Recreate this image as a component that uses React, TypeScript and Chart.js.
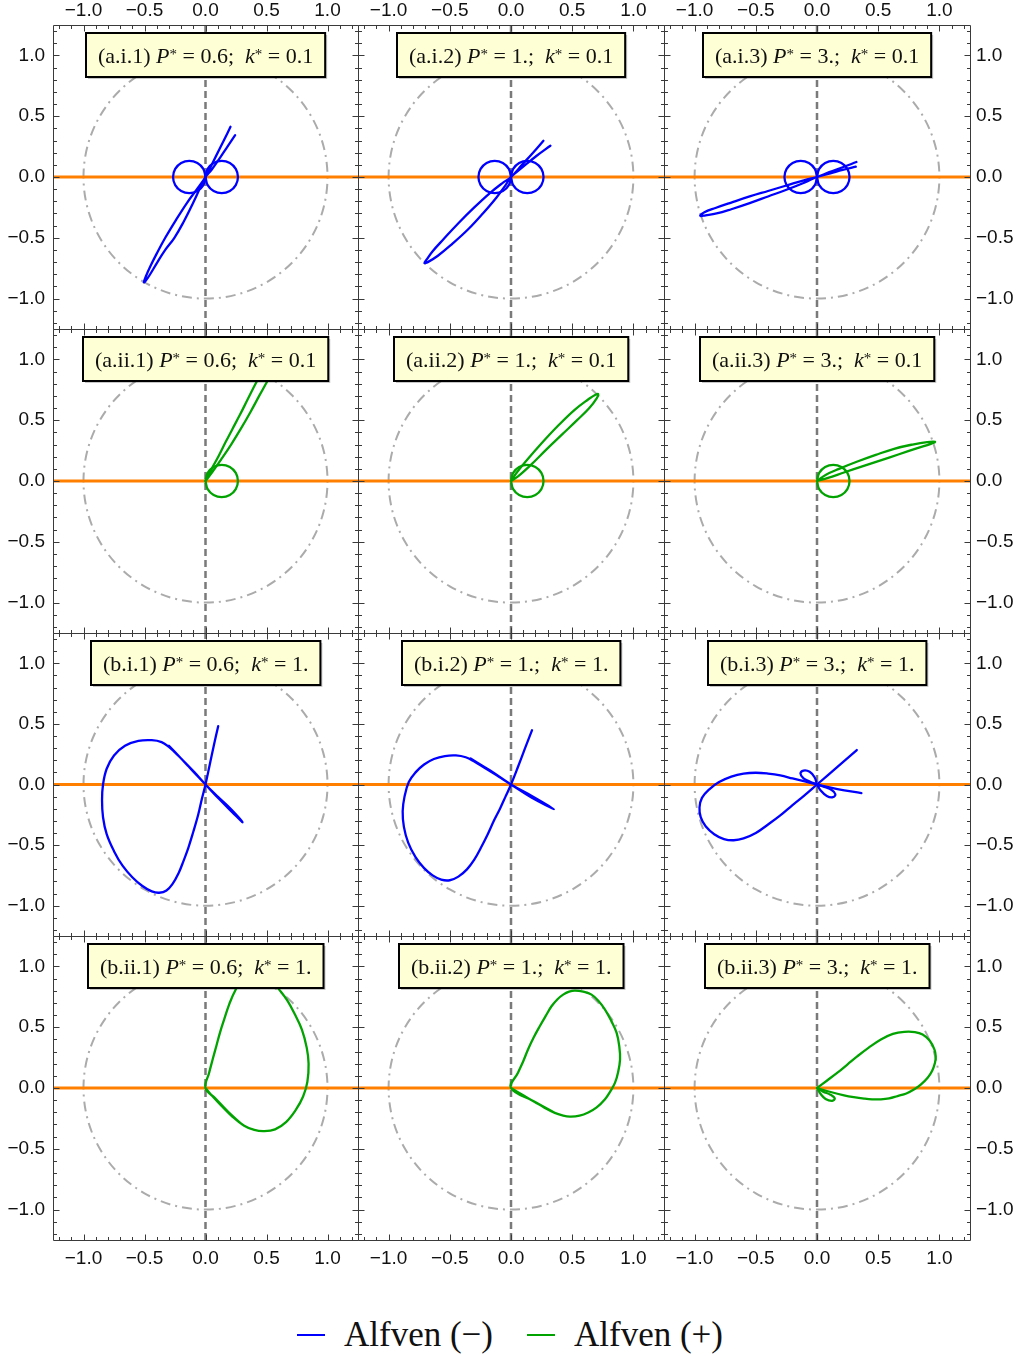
import React, { useEffect, useRef } from 'react';
import { Chart, registerables } from 'chart.js';

Chart.register(...registerables);

type Pt = [number, number];

// ---------- axes ----------
const AXIS_MIN = -1.25;
const AXIS_MAX = 1.25;
const majorTickValues = [-1, -0.5, 0, 0.5, 1];
const majorTickLabels = ['−1.0', '−0.5', '0.0', '0.5', '1.0'];
const minorTickValues = [-1.2, -1.1, -1, -0.9, -0.8, -0.7, -0.6, -0.5, -0.4, -0.3, -0.2, -0.1, 0, 0.1, 0.2, 0.3, 0.4, 0.5, 0.6, 0.7, 0.8, 0.9, 1, 1.1, 1.2];

// ---------- labels ----------
const rowTags = ['a.i', 'a.ii', 'b.i', 'b.ii'];
const pStarValues = ['0.6', '1.', '3.'];
const kStarValues = ['0.1', '0.1', '1.', '1.'];
const seriesNames = ['Alfven (−)', 'Alfven (+)'];

// ---------- guides ----------
const horizontalAxisLine: Pt[] = [[-1.25, 0], [1.25, 0]];
const verticalAxisLine: Pt[] = [[0, -1.25], [0, 1.25]];
const unitCircle: Pt[] = [
  [0, 1], [0.2588, 0.9659], [0.5, 0.866], [0.7071, 0.7071], [0.866, 0.5], [0.9659, 0.2588],
  [1, 0], [0.9659, -0.2588], [0.866, -0.5], [0.7071, -0.7071], [0.5, -0.866], [0.2588, -0.9659],
  [0, -1], [-0.2588, -0.9659], [-0.5, -0.866], [-0.7071, -0.7071], [-0.866, -0.5], [-0.9659, -0.2588],
  [-1, 0], [-0.9659, 0.2588], [-0.866, 0.5], [-0.7071, 0.7071], [-0.5, 0.866], [-0.2588, 0.9659], [0, 1],
];

// small loops touching the origin
const rightLoop: Pt[] = [
  [0, 0], [0.0178, 0.0665], [0.0665, 0.1152], [0.133, 0.133], [0.1995, 0.1152], [0.2482, 0.0665],
  [0.266, 0], [0.2482, -0.0665], [0.1995, -0.1152], [0.133, -0.133], [0.0665, -0.1152], [0.0178, -0.0665], [0, 0],
];
const leftLoop: Pt[] = [
  [0, 0], [-0.0178, 0.0665], [-0.0665, 0.1152], [-0.133, 0.133], [-0.1995, 0.1152], [-0.2482, 0.0665],
  [-0.266, 0], [-0.2482, -0.0665], [-0.1995, -0.1152], [-0.133, -0.133], [-0.0665, -0.1152], [-0.0178, -0.0665], [0, 0],
];

// ---------- Alfven (−), k* = 0.1 ----------
const aI1Minus: Pt[] = [
  [0.205, 0.413], [0.15, 0.3], [0.09, 0.18], [0.03, 0.06], [0, 0],
  [-0.07, -0.1], [-0.15, -0.21], [-0.24, -0.35], [-0.33, -0.5], [-0.4, -0.63], [-0.45, -0.73], [-0.49, -0.82], [-0.505, -0.866],
  [-0.495, -0.86], [-0.46, -0.81], [-0.4, -0.71], [-0.33, -0.6], [-0.255, -0.5], [-0.18, -0.37], [-0.1, -0.21], [-0.04, -0.08], [0, 0],
  [0.05, 0.06], [0.12, 0.16], [0.18, 0.25], [0.243, 0.344],
];
const aI2Minus: Pt[] = [
  [0.265, 0.298], [0.18, 0.2], [0.09, 0.1], [0, 0],
  [-0.07, -0.05], [-0.17, -0.13], [-0.3, -0.25], [-0.43, -0.38], [-0.55, -0.51], [-0.64, -0.61], [-0.69, -0.68], [-0.708, -0.708],
  [-0.68, -0.7], [-0.6, -0.65], [-0.48, -0.55], [-0.35, -0.43], [-0.23, -0.3], [-0.12, -0.17], [-0.04, -0.06], [0, 0],
  [0.1, 0.085], [0.21, 0.175], [0.322, 0.257],
];
const aI3Minus: Pt[] = [
  [0.322, 0.123], [0.21, 0.08], [0.1, 0.04], [0, 0],
  [-0.1, -0.025], [-0.25, -0.07], [-0.4, -0.115], [-0.55, -0.16], [-0.7, -0.21], [-0.83, -0.255], [-0.92, -0.29], [-0.954, -0.32],
  [-0.91, -0.315], [-0.82, -0.3], [-0.7, -0.265], [-0.55, -0.215], [-0.4, -0.16], [-0.25, -0.105], [-0.1, -0.045], [0, 0],
  [0.11, 0.03], [0.21, 0.058], [0.317, 0.085],
];

// ---------- Alfven (+), k* = 0.1 ----------
const aII1Plus: Pt[] = [
  [0, 0], [0.05, 0.1], [0.11, 0.21], [0.165, 0.32], [0.22, 0.426], [0.28, 0.54], [0.35, 0.68], [0.418, 0.814], [0.47, 0.9],
  [0.52, 0.95],
  [0.55, 0.9], [0.503, 0.814], [0.44, 0.7], [0.37, 0.57], [0.29, 0.43], [0.21, 0.3], [0.13, 0.18], [0.06, 0.08], [0, 0],
];
const aII2Plus: Pt[] = [
  [0, 0], [0.04, 0.06], [0.12, 0.16], [0.25, 0.31], [0.39, 0.46], [0.52, 0.585], [0.63, 0.67], [0.69, 0.71], [0.713, 0.713],
  [0.7, 0.68], [0.64, 0.6], [0.54, 0.5], [0.42, 0.385], [0.29, 0.26], [0.16, 0.13], [0.06, 0.04], [0, 0],
];
const aII3Plus: Pt[] = [
  [0, 0], [0.07, 0.05], [0.18, 0.1], [0.33, 0.16], [0.48, 0.215], [0.63, 0.265], [0.78, 0.3], [0.9, 0.32], [0.964, 0.322],
  [0.93, 0.305], [0.82, 0.27], [0.67, 0.22], [0.52, 0.17], [0.37, 0.12], [0.22, 0.07], [0.09, 0.025], [0, 0],
];

// ---------- Alfven (−), k* = 1 ----------
const bI1Minus: Pt[] = [
  [0.104, 0.481], [0.07, 0.33], [0.035, 0.165], [0, 0],
  [-0.03, -0.12], [-0.06, -0.25], [-0.1, -0.39], [-0.14, -0.52], [-0.18, -0.63], [-0.22, -0.73], [-0.27, -0.82],
  [-0.32, -0.875], [-0.38, -0.893], [-0.44, -0.882], [-0.52, -0.835], [-0.6, -0.765], [-0.68, -0.67], [-0.75, -0.55],
  [-0.81, -0.41], [-0.84, -0.27], [-0.848, -0.13], [-0.84, 0], [-0.81, 0.13], [-0.75, 0.24], [-0.66, 0.32],
  [-0.55, 0.36], [-0.44, 0.366], [-0.36, 0.35], [-0.3, 0.31], [-0.22, 0.235], [-0.14, 0.15], [-0.07, 0.075], [0, 0],
  [0.112, -0.12], [0.221, -0.23], [0.303, -0.311], [0.21, -0.205], [0.1, -0.1], [0, 0],
  [-0.09, 0.1], [-0.2, 0.215], [-0.3, 0.32],
];
const bI2Minus: Pt[] = [
  [0.172, 0.448], [0.115, 0.3], [0.055, 0.14], [0, 0],
  [-0.045, -0.1], [-0.09, -0.2], [-0.14, -0.3], [-0.19, -0.41], [-0.245, -0.52], [-0.3, -0.62], [-0.36, -0.7],
  [-0.43, -0.76], [-0.5, -0.79], [-0.57, -0.785], [-0.64, -0.75], [-0.71, -0.69], [-0.78, -0.6], [-0.84, -0.48],
  [-0.875, -0.35], [-0.885, -0.22], [-0.87, -0.1], [-0.835, 0.02], [-0.78, 0.1], [-0.71, 0.165], [-0.63, 0.21],
  [-0.54, 0.235], [-0.45, 0.24], [-0.37, 0.225], [-0.3, 0.19], [-0.22, 0.14], [-0.14, 0.09], [-0.07, 0.045], [0, 0],
  [0.167, -0.107], [0.35, -0.202], [0.17, -0.095], [0, 0], [-0.17, 0.115], [-0.33, 0.215],
];
const bI3Minus: Pt[] = [
  [0.325, 0.284], [0.16, 0.14], [0, 0],
  [-0.107, -0.093], [-0.2, -0.17], [-0.3, -0.255], [-0.4, -0.33], [-0.5, -0.4], [-0.6, -0.445], [-0.68, -0.46],
  [-0.76, -0.45], [-0.84, -0.41], [-0.91, -0.345], [-0.95, -0.27], [-0.96, -0.19], [-0.94, -0.11], [-0.88, -0.04],
  [-0.8, 0.02], [-0.7, 0.065], [-0.6, 0.09], [-0.5, 0.097], [-0.4, 0.09], [-0.3, 0.075], [-0.2, 0.05], [-0.1, 0.025], [0, 0],
  [0.167, -0.038], [0.363, -0.071],
];
const bI3MinusPetalA: Pt[] = [
  [0, 0], [-0.02, 0.06], [-0.06, 0.105], [-0.11, 0.115], [-0.135, 0.09], [-0.11, 0.05], [-0.06, 0.025], [0, 0],
];
const bI3MinusPetalB: Pt[] = [
  [0, 0], [0.06, -0.02], [0.12, -0.045], [0.15, -0.08], [0.13, -0.105], [0.08, -0.095], [0.03, -0.05], [0, 0],
];

// ---------- Alfven (+), k* = 1 ----------
const bII1Plus: Pt[] = [
  [0.3, -0.3], [0.19, -0.2], [0.08, -0.085], [0, 0],
  [0.03, 0.126], [0.06, 0.24], [0.09, 0.35], [0.12, 0.46], [0.155, 0.57], [0.195, 0.69], [0.243, 0.8], [0.31, 0.9],
  [0.42, 0.95], [0.52, 0.91], [0.604, 0.809], [0.67, 0.72], [0.73, 0.61], [0.79, 0.48], [0.83, 0.33], [0.845, 0.2],
  [0.835, 0.05], [0.8, -0.07], [0.74, -0.18], [0.66, -0.28], [0.57, -0.34], [0.48, -0.355], [0.4, -0.345],
  [0.317, -0.31], [0.22, -0.235], [0.12, -0.135], [0.05, -0.06], [0, 0],
];
const bII2Plus: Pt[] = [
  [0.36, -0.205], [0.19, -0.11], [0, 0],
  [0.057, 0.126], [0.1, 0.22], [0.139, 0.317], [0.185, 0.415], [0.235, 0.508], [0.285, 0.595], [0.331, 0.672],
  [0.38, 0.73], [0.426, 0.768], [0.475, 0.792], [0.522, 0.8], [0.59, 0.792], [0.658, 0.768], [0.715, 0.715],
  [0.768, 0.645], [0.82, 0.55], [0.863, 0.454], [0.885, 0.34], [0.891, 0.235], [0.875, 0.13], [0.85, 0.044],
  [0.81, -0.03], [0.768, -0.093], [0.7, -0.16], [0.631, -0.202], [0.56, -0.228], [0.481, -0.235], [0.42, -0.225],
  [0.358, -0.205], [0.27, -0.16], [0.194, -0.115], [0.1, -0.06], [0, 0],
];
const bII3Plus: Pt[] = [
  [0, 0], [0.08, 0.06], [0.167, 0.126], [0.25, 0.195], [0.331, 0.262], [0.42, 0.33], [0.522, 0.399], [0.62, 0.445],
  [0.713, 0.462], [0.8, 0.46], [0.863, 0.44], [0.92, 0.39], [0.959, 0.317], [0.97, 0.26], [0.964, 0.208], [0.94, 0.14],
  [0.904, 0.085], [0.85, 0.03], [0.795, -0.011], [0.73, -0.045], [0.658, -0.066], [0.59, -0.085], [0.522, -0.093],
  [0.45, -0.093], [0.385, -0.087], [0.3, -0.075], [0.221, -0.06], [0.112, -0.033], [0, 0],
];
const bII3PlusLoop: Pt[] = [
  [0, 0], [0.05, -0.03], [0.11, -0.055], [0.145, -0.085], [0.125, -0.105], [0.07, -0.09], [0.03, -0.05], [0, 0],
];

// curves in each panel [row][col]
const panelCurves: Pt[][][][] = [
  [[aI1Minus, leftLoop, rightLoop], [aI2Minus, leftLoop, rightLoop], [aI3Minus, leftLoop, rightLoop]],
  [[aII1Plus, rightLoop], [aII2Plus, rightLoop], [aII3Plus, rightLoop]],
  [[bI1Minus], [bI2Minus], [bI3Minus, bI3MinusPetalA, bI3MinusPetalB]],
  [[bII1Plus], [bII2Plus], [bII3Plus, bII3PlusLoop]],
];

// ---------- layout / style ----------
const colEdges = [53, 358, 664, 970];
const rowEdges = [25, 329, 633, 936, 1240];
const MARGIN = 50;
const seriesColors = ['#0000ff', '#00a300'];
const FRAME_COLOR = '#3a3a3a';
const TICK_FONT = '"Liberation Sans", Arial, sans-serif';
const SERIF = '"Liberation Serif", "Times New Roman", serif';

const toXY = (pts: Pt[]) => pts.map(([x, y]) => ({ x, y }));

function Panel({ r, c }: { r: number; c: number }) {
  const ref = useRef<HTMLCanvasElement>(null);
  const w = colEdges[c + 1] - colEdges[c];
  const h = rowEdges[r + 1] - rowEdges[r];
  const cw = w + 2 * MARGIN;
  const ch = h + 2 * MARGIN;

  useEffect(() => {
    const canvas = ref.current;
    if (!canvas) return;
    const color = seriesColors[r % 2];
    const curves = panelCurves[r][c];

    const datasets: any[] = [
      ...curves.map((pts) => ({
        data: toXY(pts),
        borderColor: color,
        borderWidth: 2.3,
        showLine: true,
        pointRadius: 0,
        tension: 0.4,
        fill: false,
        borderJoinStyle: 'round',
        borderCapStyle: 'round',
      })),
      { data: toXY(horizontalAxisLine), borderColor: '#ff8000', borderWidth: 3, showLine: true, pointRadius: 0, tension: 0 },
      { data: toXY(verticalAxisLine), borderColor: '#7a7a7a', borderWidth: 2.5, borderDash: [7, 4], showLine: true, pointRadius: 0, tension: 0 },
      { data: toXY(unitCircle), borderColor: '#ababab', borderWidth: 2, borderDash: [10, 5, 2, 5], showLine: true, pointRadius: 0, tension: 0.34 },
    ];

    const mkScale = (axis: 'x' | 'y', position: string, show: boolean, pad: number) => ({
      type: 'linear',
      axis,
      position,
      min: AXIS_MIN,
      max: AXIS_MAX,
      grid: { display: false, drawTicks: false },
      border: { display: false },
      ticks: {
        display: show,
        padding: pad,
        autoSkip: false,
        maxRotation: 0,
        color: '#111',
        font: { family: TICK_FONT, size: 19 },
        callback: (_v: any, i: number) => majorTickLabels[i],
      },
      afterBuildTicks: (s: any) => {
        s.ticks = majorTickValues.map((v) => ({ value: v }));
      },
      afterFit: (s: any) => {
        if (axis === 'x') s.height = MARGIN;
        else s.width = MARGIN;
      },
    });

    const decor = {
      id: 'panelDecor',
      afterDatasetsDraw(chart: any) {
        const ctx: CanvasRenderingContext2D = chart.ctx;
        const xs = chart.scales.x;
        const ys = chart.scales.y;
        const cx = xs.getPixelForValue(0);
        const cy = ys.getPixelForValue(1);
        const base = `22px ${SERIF}`;
        const ital = `italic 22px ${SERIF}`;
        const sup = `15px ${SERIF}`;
        const segs = [
          { t: `(${rowTags[r]}.${c + 1}) `, f: base, dy: 0 },
          { t: 'P', f: ital, dy: 0 },
          { t: '*', f: sup, dy: -4 },
          { t: ` = ${pStarValues[c]};  `, f: base, dy: 0 },
          { t: 'k', f: ital, dy: 0 },
          { t: '*', f: sup, dy: -4 },
          { t: ` = ${kStarValues[r]}`, f: base, dy: 0 },
        ];
        ctx.save();
        let tw = 0;
        const widths = segs.map((s) => {
          ctx.font = s.f;
          const m = ctx.measureText(s.t).width;
          tw += m;
          return m;
        });
        const bw = tw + 24;
        const bh = 44;
        const x0 = Math.round(cx - bw / 2);
        const y0 = Math.round(cy - bh / 2);
        ctx.fillStyle = 'rgba(0,0,0,0.22)';
        ctx.fillRect(x0 + 2, y0 + 2, bw, bh);
        ctx.fillStyle = '#ffffd6';
        ctx.fillRect(x0, y0, bw, bh);
        ctx.strokeStyle = '#000';
        ctx.lineWidth = 2;
        ctx.strokeRect(x0, y0, bw, bh);
        ctx.fillStyle = '#111';
        ctx.textBaseline = 'alphabetic';
        ctx.textAlign = 'left';
        let x = x0 + 12;
        const baseline = cy + 8;
        segs.forEach((s, i) => {
          ctx.font = s.f;
          ctx.fillText(s.t, x, baseline + s.dy);
          x += widths[i];
        });
        ctx.restore();
      },
      afterDraw(chart: any) {
        const ctx: CanvasRenderingContext2D = chart.ctx;
        const { left, right, top, bottom } = chart.chartArea;
        const xs = chart.scales.x;
        const ys = chart.scales.y;
        const L = Math.round(left) + 0.5;
        const R = Math.round(right) + 0.5;
        const T = Math.round(top) + 0.5;
        const B = Math.round(bottom) + 0.5;
        ctx.save();
        ctx.strokeStyle = FRAME_COLOR;
        ctx.lineWidth = 1;
        ctx.beginPath();
        ctx.rect(L, T, R - L, B - T);
        ctx.stroke();
        ctx.beginPath();
        minorTickValues.forEach((v) => {
          const major = majorTickValues.some((m) => Math.abs(m - v) < 1e-6);
          const len = major ? 6 : 3.5;
          const px = Math.round(xs.getPixelForValue(v)) + 0.5;
          const py = Math.round(ys.getPixelForValue(v)) + 0.5;
          ctx.moveTo(px, B); ctx.lineTo(px, B - len);
          ctx.moveTo(px, T); ctx.lineTo(px, T + len);
          ctx.moveTo(L, py); ctx.lineTo(L + len, py);
          ctx.moveTo(R, py); ctx.lineTo(R - len, py);
        });
        ctx.stroke();
        ctx.restore();
      },
    };

    const chart = new Chart(canvas, {
      type: 'scatter',
      data: { datasets },
      options: {
        animation: false,
        responsive: false,
        maintainAspectRatio: false,
        devicePixelRatio: 1,
        events: [],
        layout: { padding: 0 },
        plugins: { legend: { display: false }, tooltip: { enabled: false }, title: { display: false } },
        scales: {
          x: mkScale('x', 'bottom', r === 3, 7),
          x2: mkScale('x', 'top', r === 0, 3),
          y: mkScale('y', 'left', c === 0, 8),
          y2: mkScale('y', 'right', c === 2, 6),
        } as any,
      },
      plugins: [decor as any],
    });
    return () => chart.destroy();
  }, [r, c]);

  return (
    <canvas
      ref={ref}
      width={cw}
      height={ch}
      style={{ position: 'absolute', left: colEdges[c] - MARGIN, top: rowEdges[r] - MARGIN, width: cw, height: ch }}
    />
  );
}

function LegendItem({ name, color }: { name: string; color: string }) {
  return (
    <div style={{ display: 'flex', alignItems: 'center' }}>
      <span style={{ display: 'inline-block', width: 28, height: 2.5, background: color, marginRight: 19 }} />
      <span style={{ fontFamily: SERIF, fontSize: 35, color: '#111', whiteSpace: 'pre' }}>{name}</span>
    </div>
  );
}

export default function App() {
  const cells: React.ReactNode[] = [];
  for (let r = 0; r < 4; r++) {
    for (let c = 0; c < 3; c++) cells.push(<Panel key={`${r}-${c}`} r={r} c={c} />);
  }
  return (
    <div style={{ position: 'absolute', left: 0, top: 0, width: 1020, height: 1356, background: '#fff', overflow: 'hidden' }}>
      {cells}
      <div
        style={{
          position: 'absolute', left: 0, top: 1313, width: 1020, height: 44,
          display: 'flex', justifyContent: 'center', alignItems: 'center', gap: 34,
        }}
      >
        <LegendItem name={seriesNames[0]} color={seriesColors[0]} />
        <LegendItem name={seriesNames[1]} color={seriesColors[1]} />
      </div>
    </div>
  );
}
